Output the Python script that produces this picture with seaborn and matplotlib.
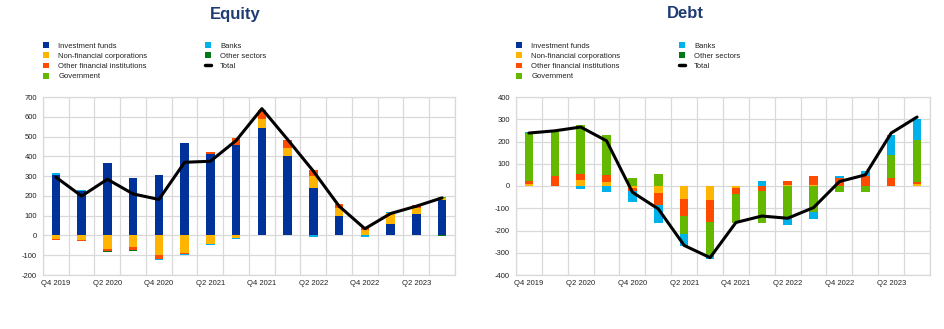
import numpy as np
import pandas as pd
import matplotlib
matplotlib.use("Agg")
import matplotlib.pyplot as plt
from matplotlib.patches import Patch
from matplotlib.lines import Line2D
import seaborn as sns

# ---------------- data ----------------
quarters = ["Q4 2019", "Q1 2020", "Q2 2020", "Q3 2020", "Q4 2020", "Q1 2021",
            "Q2 2021", "Q3 2021", "Q4 2021", "Q1 2022", "Q2 2022", "Q3 2022",
            "Q4 2022", "Q1 2023", "Q2 2023", "Q3 2023"]

series_names = ["Investment funds", "Non-financial corporations",
                "Other financial institutions", "Government", "Banks", "Other sectors"]

# Equity
eq_invest = [308, 227, 365, 290, 308, 468, 412, 455, 544, 404, 242, 98, 2, 56, 109, 177]
eq_nfc = [-17, -24, -69, -56, -101, -88, -42, -12, 45, 39, 58, 42, 25, 59, 31, 13]
eq_ofi = [-8, -5, -10, -20, -20, -4, 9, 38, 47, 42, 33, 17, 12, 0, 13, 0]
eq_gov = [0, 0, 0, 0, 0, -3, -3, 0, 0, 0, 0, 0, 0, 0, 0, 3]
eq_banks = [8, 2, 3, 2, -4, -3, -2, -6, 0, 0, -8, 0, -8, 2, 0, 0]
eq_other = [0, 0, -5, -4, 0, 0, 0, 0, 0, 0, 0, 0, 0, 0, 0, -5]
eq_total = [295, 199, 284, 210, 182, 370, 375, 480, 641, 485, 325, 148, 34, 111, 148, 190]

# Debt
debt_invest = [0, 0, 0, 0, 0, 0, 0, 0, 0, 0, 0, 0, 0, 0, 0, 0]
debt_nfc = [10, 0, 25, 16, -10, -32, -59, -63, -10, 0, 3, 4, 0, 0, 0, 7]
debt_ofi = [13, 47, 30, 34, -12, -53, -74, -100, -27, -22, 20, 43, 35, 45, 35, 13]
debt_gov = [215, 195, 217, 180, 38, 53, -84, -147, -128, -143, -138, -118, -28, -28, 105, 185]
debt_banks = [4, 0, -14, -29, -48, -80, -53, -18, 0, 24, -37, -32, 10, 24, 90, 97]
debt_other = [0, 0, 0, 0, 0, 0, 0, 0, 0, 0, 0, 0, 0, 0, 0, 0]
debt_total = [238, 248, 265, 203, -28, -103, -267, -322, -164, -135, -145, -97, 20, 50, 238, 310]

colors = {
    "Investment funds": "#003299",
    "Non-financial corporations": "#ffb400",
    "Other financial institutions": "#ff4b00",
    "Government": "#65b800",
    "Banks": "#00b1ea",
    "Other sectors": "#007816",
}
navy = "#1f3b73"
grid_col = "#d9d9d9"

sns.set_theme(style="white")
plt.rcParams["font.family"] = ["Liberation Sans", "DejaVu Sans"]
plt.rcParams["axes.unicode_minus"] = False

fig = plt.figure(figsize=(9.45, 3.29), dpi=100)
W, H = 945, 329


def draw_panel(ax, values, total, yticks, ylim):
    df = pd.DataFrame(values, index=series_names).T
    pos = df.clip(lower=0)
    neg = df.clip(upper=0)
    pos_base = pos.cumsum(axis=1) - pos
    neg_base = neg.cumsum(axis=1) - neg
    for name in series_names:
        for part, base in ((pos, pos_base), (neg, neg_base)):
            sns.barplot(x=quarters, y=part[name].to_numpy(),
                        bottom=base[name].to_numpy(), color=colors[name],
                        width=0.33, saturation=1, errorbar=None,
                        linewidth=0, ax=ax)
    sns.pointplot(x=quarters, y=total, color="black", marker="",
                  linewidth=2.2, errorbar=None, ax=ax)
    ax.set_xlim(-0.5, len(quarters) - 0.5)
    ax.set_ylim(*ylim)
    ax.set_yticks(yticks)
    ax.set_yticklabels([str(v) for v in yticks])
    ax.set_xticks(range(0, len(quarters), 2))
    ax.set_xticklabels(quarters[::2])
    ax.set_xticks(np.arange(-0.5, len(quarters), 1.0), minor=True)
    ax.set_xlabel("")
    ax.set_ylabel("")
    ax.grid(False)
    ax.yaxis.grid(True, color=grid_col, linewidth=0.9)
    ax.xaxis.grid(True, which="minor", color=grid_col, linewidth=0.9)
    ax.set_axisbelow(True)
    for s in ax.spines.values():
        s.set_color(grid_col)
        s.set_linewidth(0.9)
    ax.tick_params(axis="both", which="both", length=0, labelsize=5.5,
                   colors="#222222")
    ax.tick_params(axis="y", pad=4.3)
    ax.tick_params(axis="x", pad=3.6)
    if ax.get_legend() is not None:
        ax.get_legend().remove()


ax1 = fig.add_axes([43 / W, 54 / H, 412 / W, 178 / H])
ax2 = fig.add_axes([516 / W, 54 / H, 414 / W, 178 / H])

draw_panel(ax1, [eq_invest, eq_nfc, eq_ofi, eq_gov, eq_banks, eq_other], eq_total,
           list(range(-200, 701, 100)), (-200, 700))
draw_panel(ax2, [debt_invest, debt_nfc, debt_ofi, debt_gov, debt_banks, debt_other],
           debt_total, list(range(-400, 401, 100)), (-400, 400))

fig.text(235 / W, 1 - 14 / H, "Equity", ha="center", va="center", fontsize=12,
         fontweight="bold", color=navy)
fig.text(685 / W, 1 - 14 / H, "Debt", ha="center", va="center", fontsize=12,
         fontweight="bold", color=navy)

handles = [Patch(facecolor=colors[n], edgecolor="none", label=n) for n in series_names]
handles.append(Line2D([0], [0], color="black", linewidth=2.5, label="Total"))
col1 = handles[:4]
col2 = handles[4:]

leg_kw = dict(loc="upper left", frameon=False, fontsize=5.5, handlelength=0.8,
              handleheight=0.8, handletextpad=1.2, labelspacing=0.35,
              borderpad=0, borderaxespad=0, labelcolor="#222222")
for x1, x2 in ((43, 205), (516, 679)):
    fig.legend(handles=col1, bbox_to_anchor=(x1 / W, 1 - 42 / H), **leg_kw)
    fig.legend(handles=col2, bbox_to_anchor=(x2 / W, 1 - 42 / H), **leg_kw)

fig.savefig("out.png", dpi=100, facecolor="white")
